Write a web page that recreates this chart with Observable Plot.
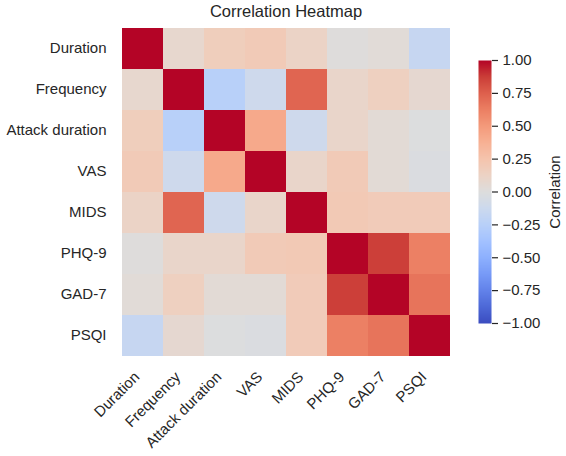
<!DOCTYPE html>
<html>
<head>
<meta charset="utf-8">
<script src="https://cdn.jsdelivr.net/npm/d3@7"></script>
<script src="https://cdn.jsdelivr.net/npm/@observablehq/plot@0.6"></script>
<style>
  html, body { margin: 0; padding: 0; background: #fff; }
  #wrap { position: relative; width: 566px; height: 456px; overflow: hidden; font-family: "Liberation Sans", Arial, sans-serif; color: #262626; }
  #title { position: absolute; left: 0; top: 1px; width: 572px; text-align: center; font-size: 16.5px; line-height: 20px; }
  #main { position: absolute; left: 0; top: 25px; }
  #bar { position: absolute; left: 470px; top: 0; }
</style>
</head>
<body>
<div id="wrap">
  <div id="title">Correlation Heatmap</div>
  <div id="main"></div>
  <div id="bar"></div>
</div>
<script>
// ---- data ----
const variables = ["Duration", "Frequency", "Attack duration", "VAS", "MIDS", "PHQ-9", "GAD-7", "PSQI"];
const rowDuration       = [1.00,  0.08,  0.17,  0.20,  0.12,  0.01,  0.03, -0.16];
const rowFrequency      = [0.08,  1.00, -0.25, -0.11,  0.73,  0.10,  0.15,  0.07];
const rowAttackDuration = [0.17, -0.25,  1.00,  0.42, -0.11,  0.10,  0.04, -0.01];
const rowVAS            = [0.20, -0.11,  0.42,  1.00,  0.10,  0.20,  0.04, -0.02];
const rowMIDS           = [0.12,  0.73, -0.11,  0.10,  1.00,  0.21,  0.19,  0.19];
const rowPHQ9           = [0.01,  0.10,  0.10,  0.20,  0.21,  1.00,  0.87,  0.62];
const rowGAD7           = [0.03,  0.15,  0.04,  0.04,  0.19,  0.87,  1.00,  0.67];
const rowPSQI           = [-0.16, 0.07, -0.01, -0.02,  0.19,  0.62,  0.67,  1.00];
const colorbarTicks = [-1, -0.75, -0.5, -0.25, 0, 0.25, 0.5, 0.75, 1];

const rows = [rowDuration, rowFrequency, rowAttackDuration, rowVAS, rowMIDS, rowPHQ9, rowGAD7, rowPSQI];
const cells = [];
rows.forEach((r, i) => r.forEach((v, j) => cells.push({row: variables[i], col: variables[j], value: v})));

// ---- matplotlib "coolwarm" colormap (stops) ----
const cwStops = [
  [59,76,192],[77,104,215],[98,130,234],[119,154,247],[141,176,254],[163,194,255],
  [184,208,249],[204,217,238],[221,221,221],[236,211,197],[245,196,173],[247,177,148],
  [244,154,123],[236,127,99],[222,96,77],[203,62,56],[180,4,38]
];
const cw = d3.scaleLinear()
  .domain(cwStops.map((_, i) => i / (cwStops.length - 1)))
  .range(cwStops.map(c => `rgb(${c[0]},${c[1]},${c[2]})`))
  .interpolate(d3.interpolateRgb)
  .clamp(true);
const colorSpec = {type: "linear", domain: [-1, 1], interpolate: t => cw(t)};

const font = "Liberation Sans, Arial, sans-serif";
const ink = "#262626";

// ---- heatmap ----
const main = Plot.plot({
  width: 566, height: 431,
  marginLeft: 120, marginRight: 114, marginTop: 0, marginBottom: 98,
  style: {fontFamily: font, fontSize: "15px", color: ink, background: "transparent"},
  x: {domain: variables, padding: 0, label: null},
  y: {domain: variables, padding: 0, label: null},
  color: colorSpec,
  marks: [
    Plot.cell(cells, {x: "col", y: "row", fill: "value", inset: 0, shapeRendering: "crispEdges"}),
    Plot.axisY({tickSize: 0, tickPadding: 14, fontSize: 15, fill: ink, label: null, dy: -1}),
    Plot.axisX({tickSize: 0, tickPadding: 16, tickRotate: -45, fontSize: 15, fill: ink, label: null, dx: -6})
  ]
});
document.getElementById("main").appendChild(main);

// ---- colorbar ----
const bar = Plot.plot({
  width: 96, height: 456,
  marginLeft: 8, marginRight: 75, marginTop: 60, marginBottom: 133,
  style: {fontFamily: font, fontSize: "15px", color: ink, background: "transparent"},
  x: {domain: [0, 1], axis: null},
  y: {domain: [-1, 1], axis: null},
  color: colorSpec,
  marks: [
    Plot.raster({fill: (x, y) => y, x1: 0, x2: 1, y1: -1, y2: 1, pixelSize: 1, imageRendering: "auto"}),
    Plot.axisY({anchor: "right", ticks: colorbarTicks, tickFormat: d3.format(".2f"), tickSize: 6, tickPadding: 5, fontSize: 15, fill: ink, stroke: ink, strokeWidth: 1.2, label: null}),
    Plot.text(["Correlation"], {frameAnchor: "right", rotate: -90, dx: 64, fontSize: 15, fill: ink, textAnchor: "middle", lineAnchor: "middle"})
  ]
});
document.getElementById("bar").appendChild(bar);
</script>
</body>
</html>
